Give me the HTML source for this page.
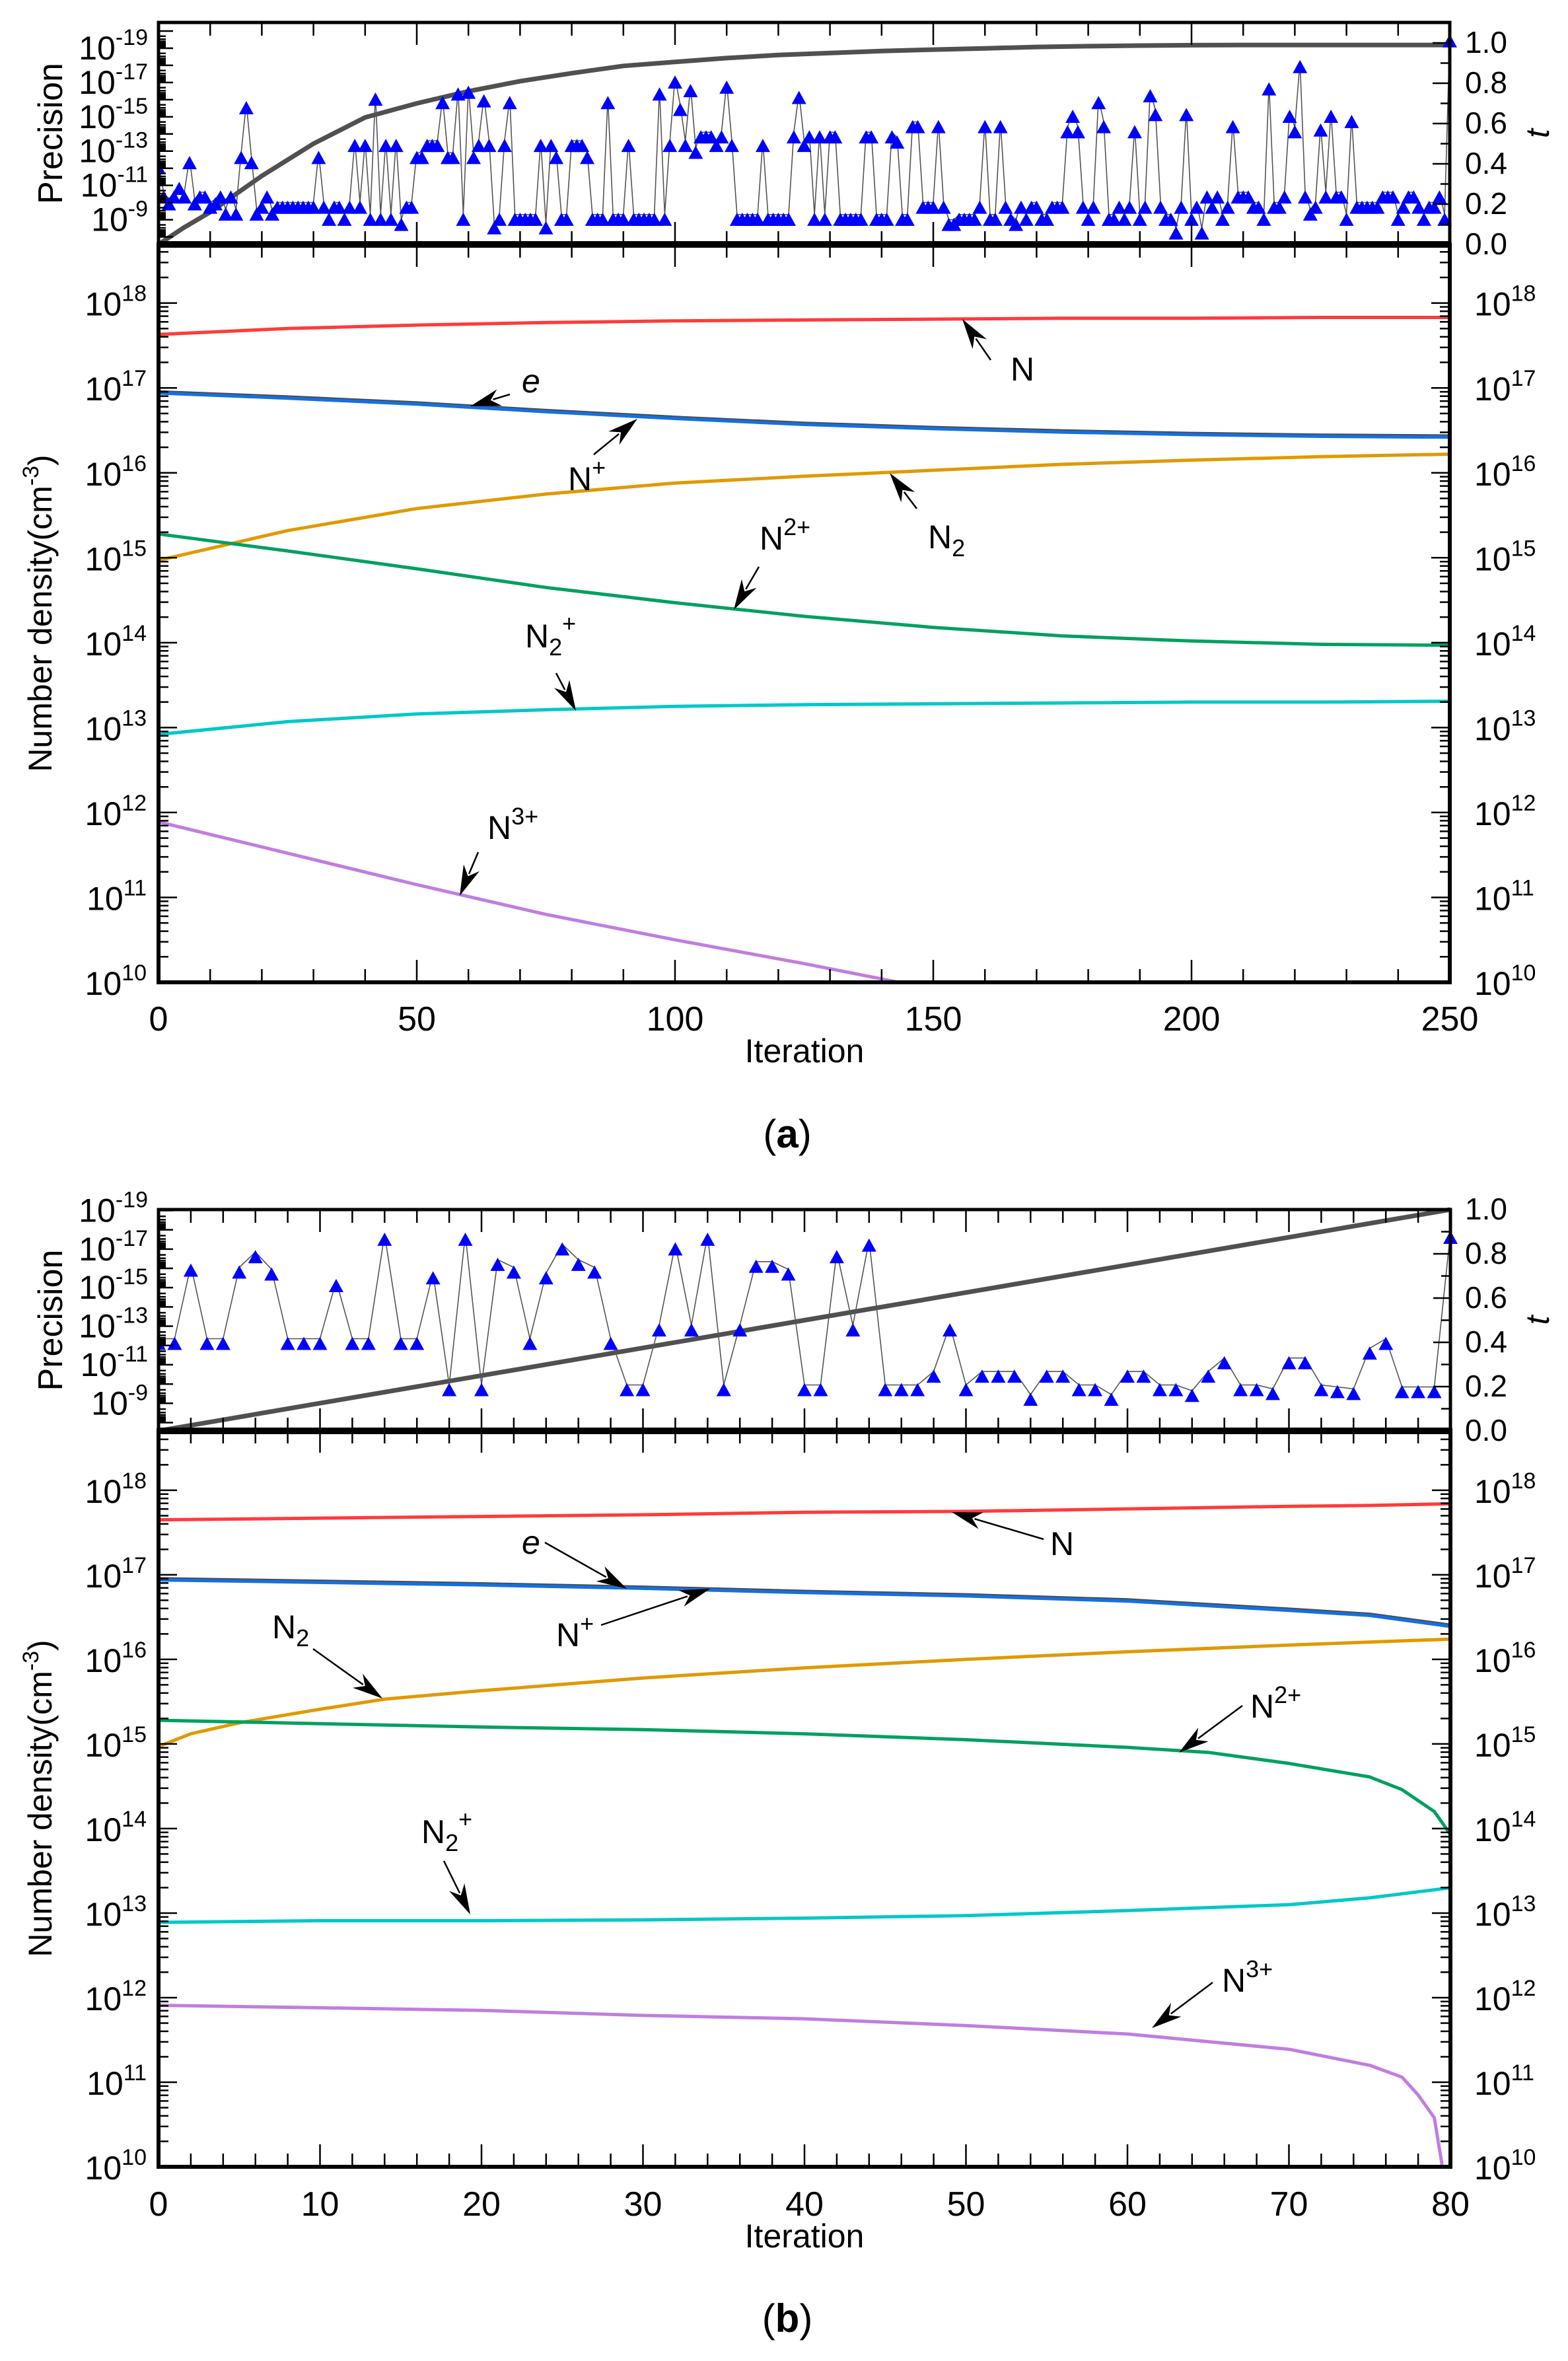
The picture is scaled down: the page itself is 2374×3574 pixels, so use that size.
<!DOCTYPE html>
<html><head><meta charset="utf-8"><style>
html,body{margin:0;padding:0;background:#fff}
svg{display:block}
text{font-family:"Liberation Sans",Arial,sans-serif;fill:#000}
</style></head><body>
<svg id="fig" xmlns="http://www.w3.org/2000/svg" width="2374" height="3574" viewBox="0 0 2374 3574">
<rect width="2374" height="3574" fill="#fff"/>
</svg>
<script>
// ---------- Panel (a) data ----------
const aTX = [0,5,10,20,30,40,50,60,70,80,90,100,110,120,130,140,150,160,170,180,190,200,210,220,230,240,250];
const aTV = [0,0.085,0.16,0.34,0.50,0.63,0.70,0.76,0.81,0.85,0.886,0.906,0.925,0.94,0.95,0.96,0.967,0.973,0.98,0.984,0.987,0.989,0.99,0.99,0.99,0.99,0.99];
const aPrec = [-12.3,-10.6,-10.2,-10.6,-11.1,-10.6,-12.6,-10.2,-10.6,-10.6,-10.0,-10.2,-10.6,-9.6,-10.6,-9.6,-12.9,-15.8,-12.6,-9.6,
-10.0,-10.6,-9.6,-10.0,-10.0,-10.0,-10.0,-10.0,-10.0,-10.0,-10.0,-12.9,-10.0,-9.3,-10.0,-10.0,-9.3,-10.0,-13.6,-10.0,
-13.6,-9.3,-16.3,-9.3,-13.6,-9.3,-13.6,-9.0,-10.0,-10.0,-12.9,-12.9,-13.6,-13.6,-13.6,-16.1,-12.9,-12.9,-16.6,-9.3,
-16.7,-12.9,-13.6,-16.2,-13.6,-8.8,-9.3,-13.6,-16.1,-9.3,-9.3,-9.3,-9.3,-9.3,-13.6,-8.8,-13.6,-12.9,-9.3,-9.3,
-13.6,-13.6,-13.6,-12.9,-9.3,-9.3,-9.3,-16.1,-9.3,-9.3,-9.3,-13.6,-9.3,-9.3,-9.3,-9.3,-9.3,-16.6,-9.3,-13.6,
-17.3,-15.7,-13.6,-16.8,-13.2,-14.1,-14.1,-14.1,-13.6,-14.1,-17.0,-13.6,-9.3,-9.3,-9.3,-9.3,-9.3,-13.6,-9.3,-9.3,
-9.3,-9.3,-9.3,-14.1,-16.4,-13.6,-14.1,-9.3,-14.1,-9.3,-14.1,-14.1,-9.3,-9.3,-9.3,-9.3,-9.3,-14.1,-14.1,-9.3,
-9.3,-9.3,-14.1,-13.8,-9.3,-9.3,-14.7,-14.7,-10.0,-10.0,-10.0,-14.7,-10.0,-9.0,-9.0,-9.3,-9.3,-9.3,-9.3,-10.0,
-14.7,-9.3,-9.3,-14.7,-10.0,-9.3,-9.0,-10.0,-9.3,-10.0,-10.0,-9.3,-9.3,-10.0,-10.0,-10.0,-14.4,-15.3,-14.4,-10.0,
-9.3,-10.0,-16.1,-14.7,-9.3,-9.3,-10.0,-9.3,-10.0,-14.4,-9.3,-10.0,-16.5,-15.4,-10.0,-9.3,-9.3,-8.5,-10.0,-15.4,
-9.3,-10.0,-8.5,-10.6,-10.0,-10.6,-9.3,-10.0,-14.7,-10.6,-10.6,-10.6,-10.0,-10.0,-9.3,-16.9,-10.0,-10.0,-10.6,-15.3,
-14.4,-18.2,-10.6,-9.6,-10.0,-14.5,-10.6,-15.3,-10.6,-10.6,-9.3,-15.0,-10.0,-10.0,-10.0,-10.0,-10.0,-10.6,-10.6,-10.6,
-9.3,-10.0,-10.6,-10.6,-10.0,-9.3,-10.0,-10.0,-10.6,-9.3,-19.7];
const aX = [0,25,50,75,100,125,150,175,200,225,250];
const aN = [17.63,17.70,17.74,17.77,17.79,17.80,17.81,17.82,17.82,17.83,17.83];
const aE = [16.95,16.89,16.82,16.73,16.65,16.58,16.53,16.49,16.46,16.44,16.43];
const aNp = [16.94,16.88,16.81,16.72,16.64,16.57,16.52,16.48,16.45,16.43,16.42];
const aN2 = [14.97,15.32,15.58,15.75,15.88,15.96,16.03,16.10,16.15,16.19,16.22];
const aN2p = [15.28,15.08,14.87,14.65,14.47,14.31,14.18,14.08,14.02,13.98,13.97];
const aN2plus = [12.92,13.07,13.16,13.21,13.25,13.27,13.28,13.29,13.30,13.30,13.31];
const aN3X = [0,25,50,75,100,125,150];
const aN3 = [11.89,11.52,11.15,10.80,10.50,10.22,9.92];
// ---------- Panel (b) data ----------
const bTX = [0,10,20,30,40,50,60,70,80];
const bTV = [0,0.125,0.25,0.375,0.5,0.625,0.75,0.875,1.0];
const bPrec = [-12.35,-12.35,-16.15,-12.35,-12.35,-16.05,-16.85,-15.95,-12.35,-12.35,-12.35,-15.35,-12.35,-12.35,-17.75,-12.35,-12.35,-15.75,-9.95,-17.75,
-9.95,-16.45,-16.05,-12.35,-15.75,-17.25,-16.45,-16.05,-12.35,-9.95,-9.95,-13.05,-17.25,-13.05,-17.75,-9.95,-13.05,-16.35,-16.35,-15.95,
-9.95,-9.95,-16.85,-13.05,-17.45,-9.95,-9.95,-9.95,-10.65,-13.05,-9.95,-10.65,-10.65,-10.65,-9.45,-10.65,-10.65,-9.95,-9.95,-9.45,
-10.65,-10.65,-9.95,-9.95,-9.65,-10.65,-11.35,-9.95,-9.95,-9.75,-11.35,-11.35,-9.95,-9.85,-9.75,-11.85,-12.35,-9.85,-9.85,-9.85,-17.85];
const bX = [0,10,20,30,40,50,60,70,75,80];
const bN = [17.65,17.67,17.69,17.71,17.74,17.75,17.78,17.81,17.82,17.84];
const bE = [16.95,16.92,16.89,16.85,16.80,16.76,16.70,16.59,16.53,16.40];
const bNp = [16.94,16.91,16.88,16.84,16.79,16.75,16.69,16.58,16.52,16.39];
const bN2X = [0,2,5,10,14,20,30,40,50,60,70,80];
const bN2 = [14.97,15.12,15.25,15.41,15.53,15.63,15.78,15.90,16.00,16.09,16.17,16.24];
const bN2pX = [0,10,20,30,40,50,60,65,70,75,77,79,80];
const bN2p = [15.28,15.24,15.20,15.17,15.12,15.05,14.96,14.90,14.77,14.61,14.46,14.20,13.93];
const bN2plusX = [0,10,20,30,40,50,60,70,75,80];
const bN2plus = [12.89,12.91,12.91,12.92,12.94,12.97,13.03,13.10,13.18,13.30];
const bN3X = [0,10,20,30,40,50,60,70,75,77,78,79,79.5];
const bN3 = [11.91,11.88,11.85,11.79,11.75,11.67,11.57,11.39,11.20,11.06,10.85,10.58,10.0];

const precLabels = [-19,-17,-15,-13,-11,-9];
const tLabels = ['0.0','0.2','0.4','0.6','0.8','1.0'];
const tVals = [0,0.2,0.4,0.6,0.8,1.0];
const densLabels = [10,11,12,13,14,15,16,17,18];

const NS='http://www.w3.org/2000/svg';
const svg=document.getElementById('fig');
function mk(tag,attrs,parent){const e=document.createElementNS(NS,tag);for(const k in attrs)e.setAttribute(k,attrs[k]);(parent||svg).appendChild(e);return e;}

const panels=[
 {id:'a',x0:240,x1:2195,xmax:250,major:50,minor:10,pTop:34,pBot:370,eTop:-20.5,eBot:-7.56,tMax:1.0+ (65-34)/305,
  mTop:370,mBot:1487,logTop:18.69,logBot:10,tickY:1560,iterY:1608,capY:1737,cap:'a',
  prec:aPrec,tx:aTX,tv:aTV,labelOff:17,
  series:[['n-line','#ff3b3b',aX,aN],['e-line','#4a4a4a',aX,aE],['n-plus-line','#1570e0',aX,aNp],['n2-line','#e09a00',aX,aN2],
          ['n2plus-ion-line','#00a060',aX,aN2p],['n2-plus-line','#00c8c8',aX,aN2plus],['n3plus-line','#c07ee0',aN3X,aN3]],
  notes:[['N','',' ',1530,576,[1500,545,1457,483]],['e','','',790,594,[772,597,712,615],true],['N','','+',860,742,[899,688,965,634]],
         ['N','2','',1405,830,[1388,770,1347,716]],['N','','2+',1150,832,[1149,858,1111,923]],['N','2','+',795,980,[842,1019,872,1076]],
         ['N','','3+',738,1270,[724,1290,696,1356]]]},
 {id:'b',x0:240,x1:2196,xmax:80,major:10,minor:2,pTop:1831,pBot:2166,eTop:-19.05,eBot:-7.57,tMax:1.0,
  mTop:2165,mBot:3280,logTop:18.71,logBot:10,tickY:3354,iterY:3402,capY:3530,cap:'b',
  prec:bPrec,tx:bTX,tv:bTV,labelOff:17,
  series:[['n-line','#ff3b3b',bX,bN],['e-line','#4a4a4a',bX,bE],['n-plus-line','#1570e0',bX,bNp],['n2-line','#e09a00',bN2X,bN2],
          ['n2plus-ion-line','#00a060',bN2pX,bN2p],['n2-plus-line','#00c8c8',bN2plusX,bN2plus],['n3plus-line','#c07ee0',bN3X,bN3]],
  notes:[['N','','',1590,2354,[1580,2330,1441,2289]],['e','','',790,2352,[825,2335,949,2405],true],['N','','+',842,2492,[910,2460,1075,2405]],
         ['N','2','',412,2480,[474,2496,579,2571]],['N','','2+',1893,2600,[1881,2582,1785,2653]],['N','2','+',638,2790,[672,2817,712,2898]],
         ['N','','3+',1850,3015,[1836,3001,1744,3070]]]}
];

panels.forEach(p=>{
 const g=mk('g',{});  
 const xs=v=>p.x0+v/p.xmax*(p.x1-p.x0);
 const ey=e=>p.pTop+(e-p.eTop)/(p.eBot-p.eTop)*(p.pBot-p.pTop);
 const ty=t=>p.pBot-t/p.tMax*(p.pBot-p.pTop);
 const ly=v=>p.mTop+(p.logTop-v)/(p.logTop-p.logBot)*(p.mBot-p.mTop);
 const cid='clip'+p.id;
 const cp=mk('clipPath',{id:cid},g); mk('rect',{x:p.x0,y:p.mTop,width:p.x1-p.x0,height:p.mBot-p.mTop},cp);
 const cid2='clipp'+p.id;
 const cp2=mk('clipPath',{id:cid2},g); mk('rect',{x:p.x0,y:p.pTop-20,width:p.x1-p.x0+12,height:p.pBot-p.pTop+20},cp2);
 const sg=mk('g',{'clip-path':'url(#'+cid+')'},g);
 p.series.forEach(s=>{
   const pts=s[2].map((x,i)=>xs(x).toFixed(1)+','+ly(s[3][i]).toFixed(1)).join(' ');
   const l=mk('polyline',{points:pts,fill:'none',stroke:s[1],'stroke-width':s[0]==='e-line'?6:5,'stroke-linejoin':'round'},sg);
    
 });
 const tl=mk('polyline',{points:p.tx.map((x,i)=>xs(x).toFixed(1)+','+ty(p.tv[i]).toFixed(1)).join(' '),fill:'none',stroke:'#505050','stroke-width':7},g);
  
 const pg=mk('g',{'clip-path':'url(#'+cid2+')'},g);
 const pl=mk('polyline',{points:p.prec.map((e,i)=>xs(i).toFixed(1)+','+ey(e).toFixed(1)).join(' '),fill:'none',stroke:'#555','stroke-width':1.6},pg);
  
 p.prec.forEach((e,i)=>{const x=xs(i),y=ey(e);
   const t=mk('polygon',{points:`${x-11},${y+17} ${x+11},${y+17} ${x},${y-3}`,fill:'#0000ff'},pg);
    });
 const ax=mk('g',{stroke:'#000',fill:'none'},g);
 mk('rect',{x:p.x0,y:p.pTop,width:p.x1-p.x0,height:p.pBot-p.pTop,'stroke-width':5},ax);
 mk('rect',{x:p.x0,y:p.mTop,width:p.x1-p.x0,height:p.mBot-p.mTop,'stroke-width':6},ax);
 mk('line',{x1:p.x0,x2:p.x1,y1:p.pBot,y2:p.pBot,'stroke-width':10},ax);
 for(let v=0;v<=p.xmax+1e-9;v+=p.minor){const x=xs(v),maj=Math.abs(v/p.major-Math.round(v/p.major))<1e-6;const L=maj?34:20;
   [p.pTop,p.mTop].forEach(y=>mk('line',{x1:x,x2:x,y1:y,y2:y+L,'stroke-width':2.5},ax));
   [p.pBot,p.mBot].forEach(y=>mk('line',{x1:x,x2:x,y1:y,y2:y-L,'stroke-width':2.5},ax));
   if(maj){const tt=mk('text',{x:x,y:p.tickY,'font-size':52,'text-anchor':'middle'},g);tt.textContent=String(v);
      }
 }
 for(let d=10;d<=18;d++){for(let m=1;m<=9;m++){const v=d+Math.log10(m);if(v>p.logTop)continue;const y=ly(v);const L=m===1?28:15;
   mk('line',{x1:p.x0,x2:p.x0+L,y1:y,y2:y,'stroke-width':2.5},ax);mk('line',{x1:p.x1,x2:p.x1-L,y1:y,y2:y,'stroke-width':2.5},ax);}}
 densLabels.forEach(d=>{const y=ly(d)+19;
   [[222,'end','y-left-label'],[2232,'start','y-right-label']].forEach(c=>{
   const t=mk('text',{x:c[0],y:y,'font-size':50,'text-anchor':c[1]},g);
   const a=mk('tspan',{},t);a.textContent='10';const b=mk('tspan',{dy:-22,'font-size':34},t);b.textContent=String(d);
    });});
 for(let e=-20;e<=-7;e++){for(let m=1;m<=9;m++){const v=e+Math.log10(m);const y=ey(v);if(y<p.pTop||y>p.pBot)continue;const L=m===1?22:11;
   mk('line',{x1:p.x0,x2:p.x0+L,y1:y,y2:y,'stroke-width':2.5},ax);}}
 precLabels.forEach(e=>{const t=mk('text',{x:224,y:ey(e)+p.labelOff,'font-size':50,'text-anchor':'end'},g);
   const a=mk('tspan',{},t);a.textContent='10';const b=mk('tspan',{dy:-22,'font-size':34},t);b.textContent=String(e);
    });
 for(let k=0;k<=10;k++){const y=ty(k/10);if(y<p.pTop-1)continue;mk('line',{x1:p.x1,x2:p.x1-(k%2?14:26),y1:y,y2:y,'stroke-width':2.5},ax);}
 tVals.forEach((v,i)=>{const t=mk('text',{x:2218,y:ty(v)+15,'font-size':46},g);t.textContent=tLabels[i];
    });
 const pc=(p.pTop+p.pBot)/2, mc=(p.mTop+p.mBot)/2;
 let t=mk('text',{x:0,y:0,'font-size':52,'text-anchor':'middle',transform:`translate(94,${pc}) rotate(-90)`},g);t.textContent='Precision';
  
 t=mk('text',{x:0,y:0,'font-size':50,'text-anchor':'middle',transform:`translate(78,${mc}) rotate(-90)`},g);
 mk('tspan',{},t).textContent='Number density(cm';const s1=mk('tspan',{dy:-20,'font-size':34},t);s1.textContent='-3';const s2=mk('tspan',{dy:20},t);s2.textContent=')';
  
 t=mk('text',{x:0,y:0,'font-size':50,'font-style':'italic','text-anchor':'middle',transform:`translate(2345,${pc}) rotate(-90)`},g);t.textContent='t';
  
 t=mk('text',{x:1218,y:p.iterY,'font-size':50,'text-anchor':'middle'},g);t.textContent='Iteration';
  
 t=mk('text',{x:1192,y:p.capY,'font-size':60,'text-anchor':'middle','font-family':'Liberation Serif, serif'},g);
 mk('tspan',{},t).textContent='(';const bb=mk('tspan',{'font-weight':'bold'},t);bb.textContent=p.cap;mk('tspan',{},t).textContent=')';
  
 p.notes.forEach(n=>{
   const [x1,y1,x2,y2]=n[5];
   const ang=Math.atan2(y2-y1,x2-x1),L=46,W=13;
   const bx=x2-L*Math.cos(ang),by=y2-L*Math.sin(ang);
   const ln=mk('line',{x1:x1,y1:y1,x2:bx+10*Math.cos(ang),y2:by+10*Math.sin(ang),stroke:'#000','stroke-width':2.5},g);
    
   const nx=-Math.sin(ang),ny=Math.cos(ang);
   const mx=x2-0.7*L*Math.cos(ang),my=y2-0.7*L*Math.sin(ang);
   mk('polygon',{points:`${x2},${y2} ${bx+W*nx},${by+W*ny} ${mx},${my} ${bx-W*nx},${by-W*ny}`,fill:'#000'},g);
   const tx=mk('text',{x:n[3],y:n[4],'font-size':50},g);
   const m=mk('tspan',{},tx);m.textContent=n[0];if(n[6])tx.setAttribute('font-style','italic');
   if(n[1]){const s=mk('tspan',{dy:12,'font-size':36},tx);s.textContent=n[1];}
   if(n[2]&&n[2].trim()){const s=mk('tspan',{dy:n[1]?-36:-22,'font-size':36},tx);s.textContent=n[2];}
    
 });
});
</script>
</body></html>
